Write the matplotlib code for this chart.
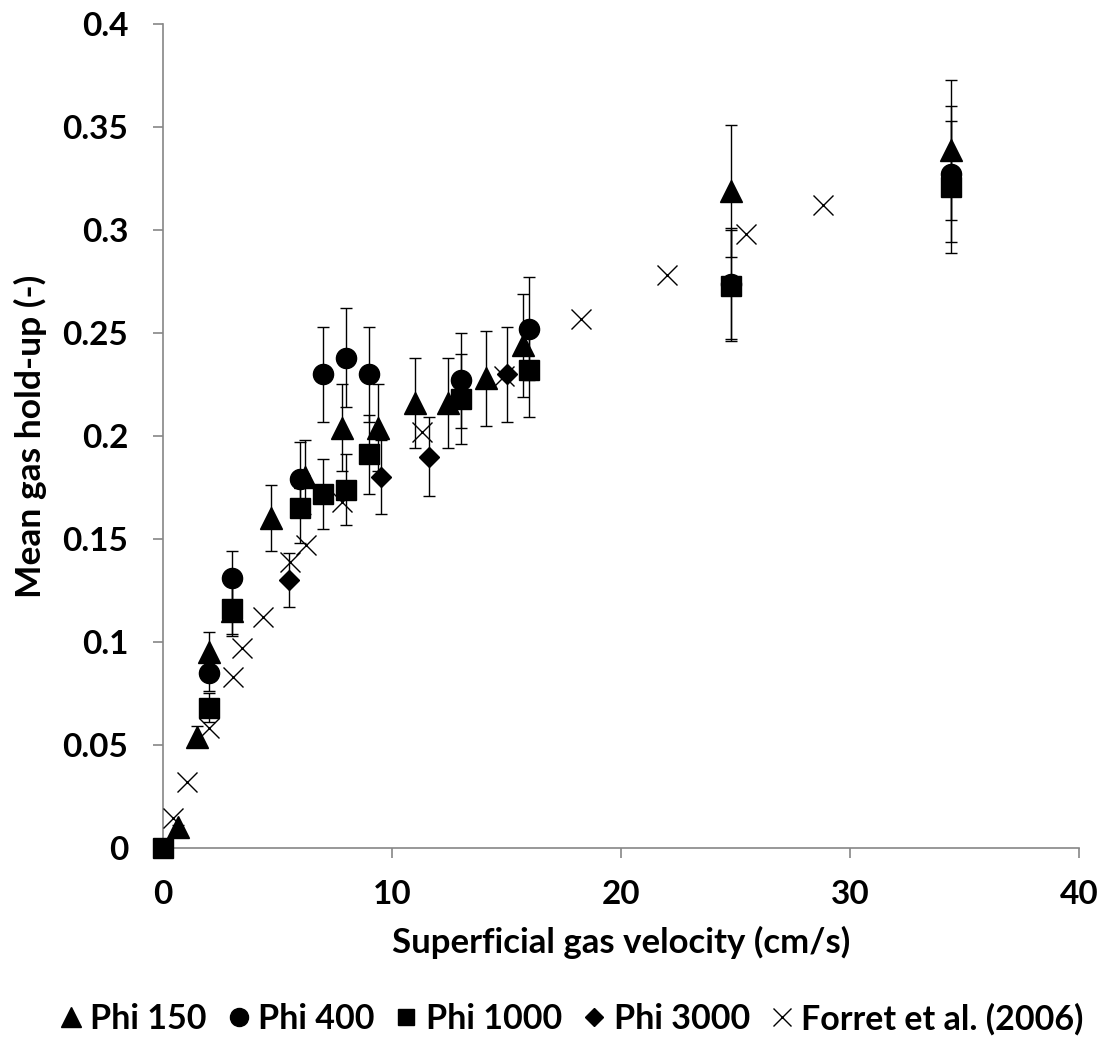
import matplotlib
matplotlib.use('Agg')
import matplotlib.pyplot as plt
from matplotlib.lines import Line2D

# Data (superficial gas velocity in cm/s, mean gas hold-up)
phi150_x = [0.65, 1.5, 2.0, 3.0, 4.7, 6.2, 7.8, 9.4, 11.0, 12.45, 14.1, 15.7, 24.8, 34.4]
phi150_y = [0.010, 0.054, 0.095, 0.115, 0.160, 0.180, 0.204, 0.204, 0.216, 0.216, 0.228, 0.244, 0.319, 0.339]
phi150_err = [0.001, 0.005, 0.010, 0.012, 0.016, 0.018, 0.021, 0.021, 0.022, 0.022, 0.023, 0.025, 0.032, 0.034]

phi400_x = [2.0, 3.0, 6.0, 7.0, 8.0, 9.0, 13.0, 16.0, 24.8, 34.4]
phi400_y = [0.085, 0.131, 0.179, 0.230, 0.238, 0.230, 0.227, 0.252, 0.274, 0.327]
phi400_err = [0.009, 0.013, 0.018, 0.023, 0.024, 0.023, 0.023, 0.025, 0.027, 0.033]

phi1000_x = [0.0, 2.0, 3.0, 6.0, 7.0, 8.0, 9.0, 13.0, 16.0, 24.8, 34.4]
phi1000_y = [0.0, 0.068, 0.116, 0.165, 0.172, 0.174, 0.191, 0.218, 0.232, 0.273, 0.321]
phi1000_err = [0.0, 0.007, 0.012, 0.017, 0.017, 0.017, 0.019, 0.022, 0.023, 0.027, 0.032]

phi3000_x = [5.5, 9.5, 11.6, 15.0]
phi3000_y = [0.130, 0.180, 0.190, 0.230]
phi3000_err = [0.013, 0.018, 0.019, 0.023]

forret_x = [0.45, 1.05, 2.0, 3.05, 3.45, 4.35, 5.55, 6.25, 7.8, 11.3, 14.9, 18.25, 22.0, 25.45, 28.8]
forret_y = [0.0145, 0.032, 0.058, 0.083, 0.097, 0.112, 0.139, 0.147, 0.168, 0.202, 0.229, 0.257, 0.278, 0.298, 0.312]

x_ticks = [0, 10, 20, 30, 40]
y_ticks = [0, 0.05, 0.1, 0.15, 0.2, 0.25, 0.3, 0.35, 0.4]
y_tick_labels = ['0', '0.05', '0.1', '0.15', '0.2', '0.25', '0.3', '0.35', '0.4']

plt.rcParams['font.family'] = ['Lato', 'DejaVu Sans']
plt.rcParams['font.weight'] = 'bold'

AXIS_GREY = '#868686'


def plot_series(ax, x, y, err, marker, ms):
    ax.errorbar(x, y, yerr=err, fmt=marker, color='black', markersize=ms,
                ecolor='black', elinewidth=1.0, capsize=4.3, capthick=1.0, zorder=3)


def main():
    fig = plt.figure(figsize=(11.05, 10.37), dpi=100)
    ax = fig.add_axes([0.1475, 0.1823, 0.829, 0.7946])

    plot_series(ax, phi150_x, phi150_y, phi150_err, '^', 16)
    plot_series(ax, phi400_x, phi400_y, phi400_err, 'o', 14.5)
    plot_series(ax, phi1000_x, phi1000_y, phi1000_err, 's', 14)
    plot_series(ax, phi3000_x, phi3000_y, phi3000_err, 'D', 10.5)
    ax.plot(forret_x, forret_y, 'x', color='black', markersize=14,
            markeredgewidth=1.0, zorder=4)

    ax.set_xlim(0, 40)
    ax.set_ylim(0, 0.4)
    ax.set_xticks(x_ticks)
    ax.set_yticks(y_ticks)
    ax.set_yticklabels(y_tick_labels)
    ax.tick_params(axis='both', labelsize=24, color=AXIS_GREY, width=1.2, length=7)
    ax.tick_params(axis='y', pad=18)
    ax.tick_params(axis='x', pad=16)

    for side in ['top', 'right']:
        ax.spines[side].set_visible(False)
    for side in ['left', 'bottom']:
        ax.spines[side].set_color(AXIS_GREY)
        ax.spines[side].set_linewidth(1.2)
    for art in ax.get_children():
        art.set_clip_on(False)

    ax.set_xlabel('Superficial gas velocity (cm/s)', fontsize=25, fontweight='bold', labelpad=12)
    ax.set_ylabel('Mean gas hold-up (-)', fontsize=25.5, fontweight='bold', labelpad=11)

    # legend with plain markers (no error bars), same order as the original
    handles = [
        Line2D([], [], ls='none', marker='^', color='black', markersize=14),
        Line2D([], [], ls='none', marker='o', color='black', markersize=13),
        Line2D([], [], ls='none', marker='s', color='black', markersize=12),
        Line2D([], [], ls='none', marker='D', color='black', markersize=9),
        Line2D([], [], ls='none', marker='x', color='black', markersize=13, markeredgewidth=1.0),
    ]
    labels = ['Phi 150', 'Phi 400', 'Phi 1000', 'Phi 3000', 'Forret et al. (2006)']
    fig.legend(handles, labels, loc='lower center', bbox_to_anchor=(0.517, 0.0), ncol=5,
               frameon=False, fontsize=24.5, handlelength=0.7, borderaxespad=0.0,
               borderpad=0.05, handletextpad=0.23, columnspacing=0.58)

    fig.savefig('out.png', dpi=100)


if __name__ == "__main__":
    main()
